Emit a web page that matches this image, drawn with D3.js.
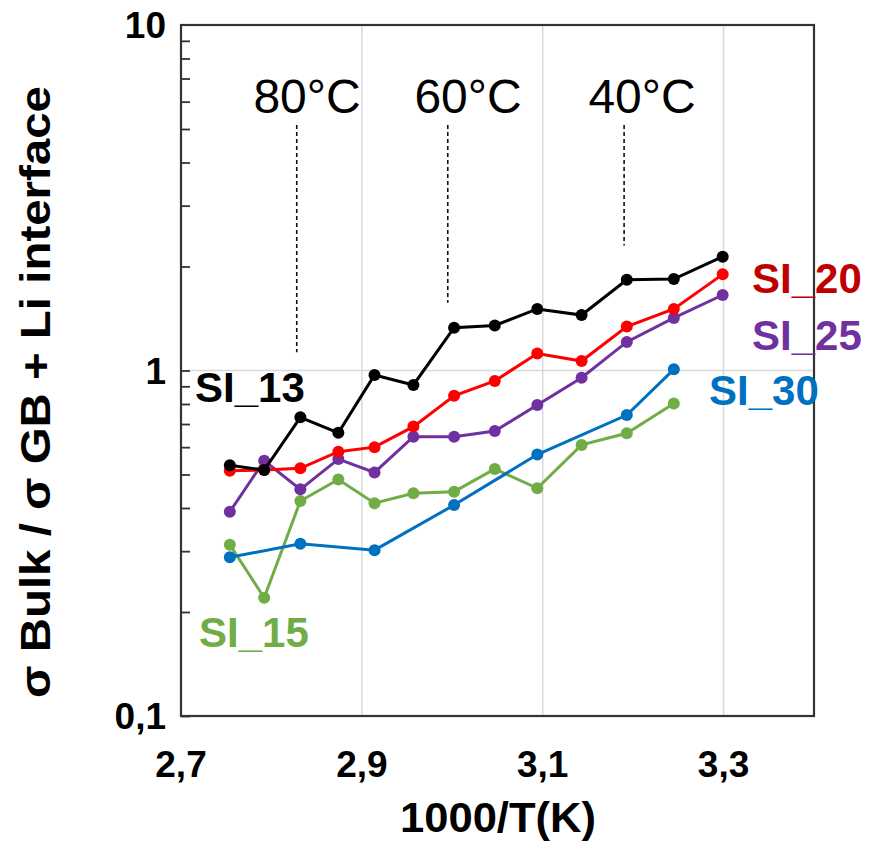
<!DOCTYPE html>
<html><head><meta charset="utf-8">
<script src="https://cdn.jsdelivr.net/npm/d3@7"></script>
<style>body{margin:0;background:#fff}svg{display:block}text{font-family:"Liberation Sans",Arial,sans-serif}</style>
</head><body><div id="chart"></div>
<script>
// 1000/T values (x) for the measured temperatures
const xs = [2.754, 2.792, 2.832, 2.874, 2.914, 2.957, 3.002, 3.047, 3.094, 3.143, 3.193, 3.245, 3.299];
const si13 = [0.532, 0.515, 0.732, 0.66, 0.97, 0.908, 1.33, 1.35, 1.507, 1.447, 1.83, 1.84, 2.135];
const si20 = [0.513, 0.515, 0.521, 0.582, 0.60, 0.688, 0.845, 0.933, 1.12, 1.065, 1.34, 1.507, 1.898];
const si25 = [0.39, 0.548, 0.453, 0.554, 0.507, 0.643, 0.643, 0.668, 0.795, 0.953, 1.21, 1.42, 1.654];
const si15 = [0.313, 0.22, 0.419, 0.484, 0.413, 0.441, 0.446, 0.519, 0.456, 0.609, 0.658, 0.803];
const si30x = [2.754, 2.832, 2.914, 3.002, 3.094, 3.193, 3.245];
const si30 = [0.288, 0.315, 0.302, 0.408, 0.571, 0.743, 1.008];
const xTicks = [2.7, 2.9, 3.1, 3.3];
const xTickLabels = ["2,7", "2,9", "3,1", "3,3"];
const yTicks = [0.1, 1, 10];
const yTickLabels = ["0,1", "1", "10"];
const tempLabels = ["80°C", "60°C", "40°C"];
const tempX = [2.828, 2.995, 3.19];
const tempLineBottom = [1.13, 1.57, 2.3];

const W = 884, H = 844;
const L = 181, R = 814, T = 25, B = 716;
const svg = d3.select("#chart").append("svg").attr("width", W).attr("height", H);
const x = d3.scaleLinear().domain([2.7, 3.4]).range([L, R]);
const y = d3.scaleLog().domain([0.1, 10]).range([B, T]);

// gridlines
svg.append("g").selectAll("line").data(xTicks.slice(1)).join("line")
  .attr("x1", d => x(d)).attr("x2", d => x(d)).attr("y1", T).attr("y2", B)
  .attr("stroke", "#d9d9d9").attr("stroke-width", 1.5);
svg.append("line").attr("x1", L).attr("x2", R).attr("y1", y(1)).attr("y2", y(1))
  .attr("stroke", "#d9d9d9").attr("stroke-width", 1.5);

// minor/major ticks on left axis (inside)
const minor = [];
[0.1, 1].forEach(b => { for (let k = 1; k <= 9; k++) minor.push(b * k); });
const yAxis = d3.axisRight(y).tickValues(minor).tickSize(9).tickFormat("");
const gy = svg.append("g").attr("transform", `translate(${L},0)`).call(yAxis);
gy.select(".domain").remove();
gy.selectAll(".tick line").attr("stroke", "#333").attr("stroke-width", 1.8);

// frame
svg.append("rect").attr("x", L).attr("y", T).attr("width", R - L).attr("height", B - T)
  .attr("fill", "none").attr("stroke", "#333").attr("stroke-width", 2.2);

// tick labels
svg.append("g").selectAll("text").data(yTicks).join("text")
  .attr("x", 166).attr("y", d => y(d)).attr("dy", "0.36em").attr("text-anchor", "end")
  .attr("font-size", 37).attr("font-weight", "bold").attr("fill", "#000")
  .text((d, i) => yTickLabels[i]);
svg.append("g").selectAll("text").data(xTicks).join("text")
  .attr("x", d => x(d)).attr("y", 777).attr("text-anchor", "middle")
  .attr("font-size", 37).attr("font-weight", "bold").attr("fill", "#000")
  .text((d, i) => xTickLabels[i]);

// axis titles
svg.append("text").attr("x", 498).attr("y", 832).attr("text-anchor", "middle")
  .attr("font-size", 43).attr("font-weight", "bold").attr("textLength", 196).attr("lengthAdjust", "spacingAndGlyphs")
  .text("1000/T(K)");
svg.append("text").attr("transform", "translate(50,392) rotate(-90)").attr("text-anchor", "middle")
  .attr("font-size", 42).attr("font-weight", "bold").attr("textLength", 612).attr("lengthAdjust", "spacingAndGlyphs")
  .text("σ Bulk / σ GB + Li interface");

// temperature annotations
svg.append("g").selectAll("line").data(tempX).join("line")
  .attr("x1", d => x(d)).attr("x2", d => x(d)).attr("y1", 125).attr("y2", (d, i) => y(tempLineBottom[i]))
  .attr("stroke", "#111").attr("stroke-width", 1.6).attr("stroke-dasharray", "4,3");
svg.append("g").selectAll("text").data(tempX).join("text")
  .attr("x", (d, i) => [307, 468, 642][i]).attr("y", 113).attr("text-anchor", "middle")
  .attr("font-size", 48).attr("fill", "#000")
  .text((d, i) => tempLabels[i]);

// series
const series = [
  {xv: xs, v: si15, c: "#70AD47"},
  {xv: si30x, v: si30, c: "#0070C0"},
  {xv: xs, v: si25, c: "#7030A0"},
  {xv: xs, v: si20, c: "#FF0000"},
  {xv: xs, v: si13, c: "#000000"}
];
const line = d3.line().x(d => x(d[0])).y(d => y(d[1]));
series.forEach(s => {
  const pts = s.v.map((v, i) => [s.xv[i], v]);
  const g = svg.append("g");
  g.append("path").attr("d", line(pts)).attr("fill", "none").attr("stroke", s.c).attr("stroke-width", 3);
  g.selectAll("circle").data(pts).join("circle")
    .attr("cx", d => x(d[0])).attr("cy", d => y(d[1])).attr("r", 6).attr("fill", s.c);
});

// series labels
const labels = [
  {t: "SI_13", x: 195, y: 402, c: "#000000"},
  {t: "SI_20", x: 752, y: 293, c: "#C00000"},
  {t: "SI_25", x: 752, y: 350, c: "#7030A0"},
  {t: "SI_30", x: 709, y: 405, c: "#0070C0"},
  {t: "SI_15", x: 199, y: 647, c: "#70AD47"}
];
svg.append("g").selectAll("text").data(labels).join("text")
  .attr("x", d => d.x).attr("y", d => d.y).attr("fill", d => d.c)
  .attr("font-size", 42).attr("font-weight", "bold").text(d => d.t);
</script></body></html>
